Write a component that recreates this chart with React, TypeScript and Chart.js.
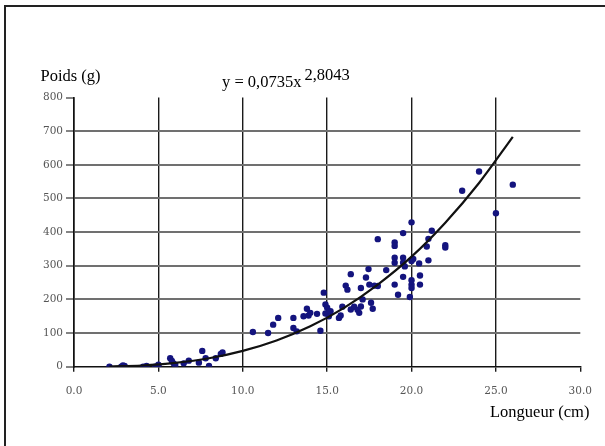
import React, { useEffect, useRef } from "react";
import { Chart, registerables } from "chart.js";

Chart.register(...registerables);

// Observed fish: length (cm) and weight (g)
const lengthCm = [
  2.1, 2.8, 3.0, 2.9, 4.1, 4.3, 4.8, 5.0, 5.0, 5.7, 5.8, 5.9, 6.0, 6.5, 6.8, 7.4, 7.6, 7.8, 8.0, 8.4, 8.7, 8.8,
  10.6, 11.5, 11.8, 12.1, 13.0, 13.0, 13.2, 13.6, 13.8, 13.9, 14.0, 14.4, 14.6, 14.8, 14.9, 14.9, 15.0, 15.1,
  15.2, 15.7, 15.8, 15.9, 16.1, 16.2, 16.4, 16.4, 16.6, 16.8, 16.9, 17.0, 17.0, 17.1, 17.3, 17.45, 17.5, 17.6,
  17.7, 17.8, 18.0, 18.0, 18.5, 19.0, 19.0, 19.0, 19.0, 19.0, 19.2, 19.5, 19.5, 19.5, 19.5, 19.6, 19.9, 20.0,
  20.0, 20.0, 20.0, 20.0, 20.1, 20.45, 20.5, 20.5, 20.9, 21.0, 21.0, 21.2, 22.0, 22.0, 23.0, 24.0, 25.0, 26.0,
];
const weightG = [
  0, 0, 2, 4, 0, 2, 0, 3, 6, 25, 17, 10, 5, 10, 18, 12, 47, 25, 2, 25, 38, 42,
  103, 100, 125, 145, 145, 115, 105, 150, 172, 152, 160, 157, 107, 220, 185, 158, 175, 150,
  165, 145, 152, 178, 241, 229, 275, 170, 178, 169, 160, 179, 234, 200, 265, 290, 244, 190,
  172, 241, 240, 379, 287, 369, 359, 324, 309, 244, 214, 397, 324, 309, 267, 298, 207, 429,
  314, 257, 244, 234, 320, 307, 244, 271, 357, 316, 380, 404, 361, 354, 523, 580, 456, 541,
];

// Power trend line
const trendX = [2.1, 4, 6, 8, 10, 12, 14, 16, 18, 20, 22, 24, 26];
const trendY = [0.6, 3.6, 11.2, 25, 47, 78, 120, 175, 244, 327, 428, 546, 683];

const yTicks = [0, 100, 200, 300, 400, 500, 600, 700, 800];
const xTicks = [0, 5, 10, 15, 20, 25, 30];

const yTitle = "Poids (g)";
const xTitle = "Longueur (cm)";
const eqMain = "y = 0,0735x";
const eqExp = "2,8043";

export default function App() {
  const ref = useRef<HTMLCanvasElement | null>(null);

  useEffect(() => {
    if (!ref.current) return;
    const textPlugin = {
      id: "texts",
      beforeDraw(chart: any) {
        const ctx = chart.ctx;
        ctx.save();
        ctx.fillStyle = "#ffffff";
        ctx.fillRect(0, 0, chart.width, chart.height);
        ctx.restore();
      },
      afterDraw(chart: any) {
        const ctx = chart.ctx;
        ctx.save();
        // frame
        ctx.strokeStyle = "#222";
        ctx.lineWidth = 2;
        ctx.beginPath();
        ctx.moveTo(5, 460);
        ctx.lineTo(5, 6);
        ctx.lineTo(620, 6);
        ctx.stroke();
        ctx.fillStyle = "#000";
        ctx.textBaseline = "middle";
        ctx.textAlign = "left";
        ctx.font = '16.5px "Liberation Serif"';
        ctx.fillText(yTitle, 40.5, 77);
        ctx.fillText(xTitle, 490, 413);
        ctx.fillText(eqMain, 222, 83);
        const w = ctx.measureText(eqMain).width;
        ctx.fillText(eqExp, 222 + w + 3, 76);
        ctx.restore();
      },
    };

    const chart = new Chart(ref.current, {
      type: "scatter",
      data: {
        datasets: [
          {
            label: "trend",
            data: trendX.map((x, i) => ({ x, y: trendY[i] })),
            showLine: true,
            borderColor: "#111",
            borderWidth: 2.2,
            pointRadius: 0,
            cubicInterpolationMode: "monotone",
            order: 0,
          } as any,
          {
            label: "data",
            data: lengthCm.map((x, i) => ({ x, y: weightG[i] })),
            backgroundColor: "#14147e",
            borderColor: "#14147e",
            pointRadius: 3.2,
            pointBorderWidth: 0,
            order: 1,
          },
        ],
      },
      options: {
        animation: false,
        responsive: false,
        devicePixelRatio: 1,
        layout: { padding: { left: 0, top: 97.5, right: 21, bottom: 0 } },
        plugins: {
          legend: { display: false },
          tooltip: { enabled: false },
        },
        scales: {
          x: {
            type: "linear",
            min: 0,
            max: 30,
            afterBuildTicks: (s: any) => {
              s.ticks = xTicks.map((v) => ({ value: v }));
            },
            afterFit: (s: any) => {
              s.height = 446 - 366.7;
            },
            ticks: {
              callback: (v: any) => Number(v).toFixed(1),
              color: "#555",
              font: { family: '"DejaVu Serif"', size: 10.5 },
              padding: 13,
              maxRotation: 0,
            },
            grid: {
              color: (c: any) => (c.tick && c.tick.value === 30 ? "rgba(0,0,0,0)" : "#1a1a1a"),
              lineWidth: 1.4,
              tickLength: 5,
              tickColor: "#1a1a1a",
              tickWidth: 1.4,
            },
            border: { display: true, color: "#111", width: 1.6 },
          },
          y: {
            type: "linear",
            min: 0,
            max: 800,
            afterBuildTicks: (s: any) => {
              s.ticks = yTicks.map((v) => ({ value: v }));
            },
            afterFit: (s: any) => {
              s.width = 74;
            },
            ticks: {
              callback: (v: any) => String(v),
              color: "#555",
              font: { family: '"DejaVu Serif"', size: 10.5 },
              padding: 3,
            },
            grid: {
              color: (c: any) =>
                c.tick && (c.tick.value === 800 || c.tick.value === 0) ? "rgba(0,0,0,0)" : "#707070",
              lineWidth: 2,
              tickLength: 8,
              tickColor: "#333",
              tickWidth: 1.2,
            },
            border: { display: true, color: "#111", width: 1.6 },
          },
        },
      },
      plugins: [textPlugin],
    });
    return () => chart.destroy();
  }, []);

  return (
    <div style={{ position: "fixed", left: 0, top: 0, width: 605, height: 446, background: "#fff" }}>
      <canvas ref={ref} width={605} height={446} style={{ display: "block", width: 605, height: 446 }} />
    </div>
  );
}
